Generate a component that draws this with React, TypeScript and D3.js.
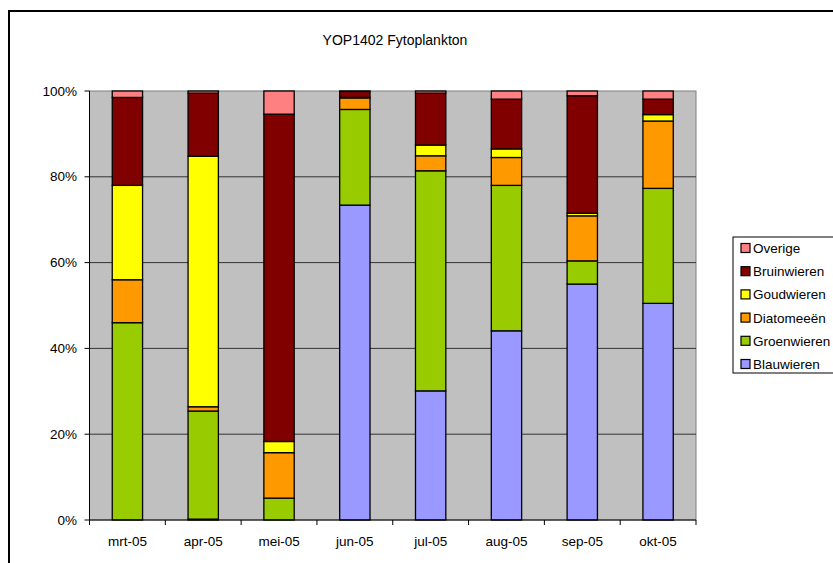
import React from 'react';
import * as d3 from 'd3';

// maanden en aandelen (%) per groep
const months = ['mrt-05', 'apr-05', 'mei-05', 'jun-05', 'jul-05', 'aug-05', 'sep-05', 'okt-05'];
const blauwieren = [0, 0.2, 0, 73.4, 30.1, 44.1, 55.0, 50.5];
const groenwieren = [46.0, 25.2, 5.1, 22.3, 51.3, 33.9, 5.4, 26.8];
const diatomeeen = [10.0, 1.0, 10.6, 2.7, 3.5, 6.5, 10.5, 15.7];
const goudwieren = [22.0, 58.4, 2.6, 0.1, 2.5, 2.0, 0.6, 1.5];
const bruinwieren = [20.5, 14.7, 76.3, 1.4, 12.1, 11.6, 27.4, 3.6];
const overige = [1.5, 0.5, 5.4, 0.1, 0.5, 1.9, 1.1, 1.9];
const yTicks = [0, 20, 40, 60, 80, 100];

const series = [
  { name: 'Blauwieren', values: blauwieren, color: '#9999FF' },
  { name: 'Groenwieren', values: groenwieren, color: '#99CC00' },
  { name: 'Diatomeeën', values: diatomeeen, color: '#FF9900' },
  { name: 'Goudwieren', values: goudwieren, color: '#FFFF00' },
  { name: 'Bruinwieren', values: bruinwieren, color: '#800000' },
  { name: 'Overige', values: overige, color: '#FF8080' },
];

const W = 833;
const H = 563;
const plot = { left: 89.5, right: 696, top: 91, bottom: 520 };
const font = 'Arial, "Liberation Sans", sans-serif';

export default function App() {
  // rows voor d3.stack, genormaliseerd naar 100%
  const rows = months.map((m, i) => {
    const row: any = { month: m };
    const total = d3.sum(series, (s) => s.values[i]);
    series.forEach((s) => (row[s.name] = (s.values[i] / total) * 100));
    return row;
  });
  const stacked = d3.stack().keys(series.map((s) => s.name))(rows);

  const x = d3.scaleBand().domain(months).range([plot.left, plot.right]).paddingInner(0).paddingOuter(0);
  const y = d3.scaleLinear().domain([0, 100]).range([plot.bottom, plot.top]);
  const barW = x.bandwidth() / 2.5;

  const legendItems = [...series].reverse();

  return (
    <svg width={W} height={H} style={{ position: 'absolute', left: 0, top: 0, background: '#fff' }}>
      {/* buitenkader */}
      <rect x={9} y={11} width={W + 20} height={H + 20} fill="#fff" stroke="#000" strokeWidth={2} />
      <text x={395} y={45} textAnchor="middle" fontFamily={font} fontSize={14}>
        YOP1402 Fytoplankton
      </text>

      {/* plotvlak */}
      <rect x={plot.left} y={plot.top} width={plot.right - plot.left} height={plot.bottom - plot.top} fill="#C0C0C0" stroke="#808080" strokeWidth={1} />
      {yTicks.map((t) => (
        <g key={t}>
          {t > 0 && t < 100 && <line x1={plot.left} x2={plot.right} y1={y(t)} y2={y(t)} stroke="#333" strokeWidth={1} />}
          <line x1={plot.left - 5} x2={plot.left} y1={y(t)} y2={y(t)} stroke="#000" />
          <text x={77} y={y(t) + 4.5} textAnchor="end" fontFamily={font} fontSize={13.5}>
            {t}%
          </text>
        </g>
      ))}

      {stacked.map((layer, li) => (
        <g key={layer.key} fill={series[li].color}>
          {layer.map((d, i) => (
            <rect
              key={i}
              x={(x(months[i]) as number) + (x.bandwidth() - barW) / 2}
              y={y(d[1])}
              width={barW}
              height={Math.max(0, y(d[0]) - y(d[1]))}
              stroke="#000"
              strokeWidth={1.3}
            />
          ))}
        </g>
      ))}

      {/* assen */}
      <line x1={plot.left} x2={plot.left} y1={plot.top} y2={plot.bottom} stroke="#000" />
      <line x1={plot.left} x2={plot.right} y1={plot.bottom} y2={plot.bottom} stroke="#000" />
      {months.map((m, i) => (
        <line key={'t' + m} x1={x(m) as number} x2={x(m) as number} y1={plot.bottom} y2={plot.bottom + 5} stroke="#000" />
      ))}
      <line x1={plot.right} x2={plot.right} y1={plot.bottom} y2={plot.bottom + 5} stroke="#000" />
      {months.map((m) => (
        <text key={m} x={(x(m) as number) + x.bandwidth() / 2} y={546} textAnchor="middle" fontFamily={font} fontSize={13.5}>
          {m}
        </text>
      ))}

      {/* legenda */}
      <rect x={733} y={237} width={120} height={136} fill="#fff" stroke="#000" strokeWidth={1} />
      {legendItems.map((s, i) => (
        <g key={s.name} transform={`translate(741,${248 + i * 23.2})`}>
          <rect x={0} y={-4.5} width={9} height={9} fill={s.color} stroke="#000" strokeWidth={1.2} />
          <text x={12} y={5} fontFamily={font} fontSize={13.5}>
            {s.name}
          </text>
        </g>
      ))}
    </svg>
  );
}
